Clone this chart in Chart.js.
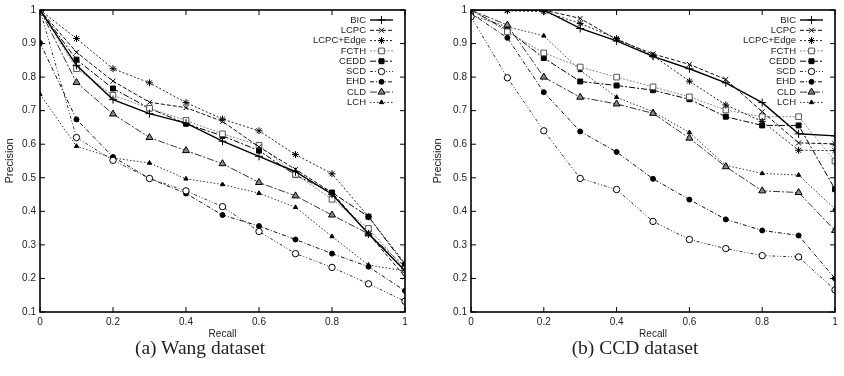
<!DOCTYPE html>
<html lang="en">
<head>
    <meta charset="UTF-8">
    <title>Precision-Recall: Wang and CCD datasets</title>
    <script src="https://cdn.jsdelivr.net/npm/chart.js"></script>
    <style>
        body {
            margin: 0;
            background: #fff;
            width: 844px;
            height: 376px;
            position: relative;
            overflow: hidden;
        }
        canvas {
            position: absolute;
            top: 0;
        }
        #wangChart { left: 0; }
        #ccdChart { left: 420px; }
        .caption {
            position: absolute;
            top: 337px;
            font-family: "Liberation Serif", "DejaVu Serif", serif;
            font-size: 19.5px;
            color: #222;
            text-align: center;
            width: 300px;
        }
    </style>
</head>
<body>
    <canvas id="wangChart" width="420" height="343"></canvas>
    <canvas id="ccdChart" width="424" height="343"></canvas>
    <div class="caption" style="left: 50px;">(a) Wang dataset</div>
    <div class="caption" style="left: 485px;">(b) CCD dataset</div>

    <script>
        const recall = [0, 0.1, 0.2, 0.3, 0.4, 0.5, 0.6, 0.7, 0.8, 0.9, 1];
        const seriesNames = ['BIC', 'LCPC', 'LCPC+Edge', 'FCTH', 'CEDD', 'SCD', 'EHD', 'CLD', 'LCH'];
        const precisionTicks = [0.1, 0.2, 0.3, 0.4, 0.5, 0.6, 0.7, 0.8, 0.9, 1];
        const recallTicks = [0, 0.2, 0.4, 0.6, 0.8, 1];

        // Wang dataset
        const wangBIC   = [1, 0.835, 0.733, 0.691, 0.663, 0.609, 0.564, 0.518, 0.451, 0.333, 0.223];
        const wangLCPC  = [1, 0.874, 0.788, 0.725, 0.709, 0.668, 0.592, 0.525, 0.456, 0.333, 0.205];
        const wangEdge  = [1, 0.915, 0.825, 0.783, 0.724, 0.675, 0.640, 0.569, 0.512, 0.384, 0.245];
        const wangFCTH  = [1, 0.825, 0.746, 0.707, 0.671, 0.631, 0.597, 0.510, 0.436, 0.349, 0.227];
        const wangCEDD  = [1, 0.852, 0.766, 0.707, 0.661, 0.625, 0.581, 0.508, 0.456, 0.384, 0.240];
        const wangSCD   = [1, 0.620, 0.552, 0.498, 0.461, 0.414, 0.340, 0.274, 0.233, 0.184, 0.132];
        const wangEHD   = [0.902, 0.674, 0.562, 0.498, 0.453, 0.389, 0.356, 0.316, 0.274, 0.235, 0.163];
        const wangCLD   = [1, 0.784, 0.690, 0.620, 0.581, 0.542, 0.486, 0.446, 0.389, 0.333, 0.235];
        const wangLCH   = [0.749, 0.594, 0.559, 0.544, 0.497, 0.480, 0.454, 0.412, 0.325, 0.240, 0.222];

        // CCD dataset
        const ccdBIC    = [1, 1, 1, 0.945, 0.908, 0.862, 0.825, 0.783, 0.724, 0.631, 0.625];
        const ccdLCPC   = [1, 1, 1, 0.975, 0.912, 0.869, 0.838, 0.793, 0.697, 0.604, 0.601];
        const ccdEdge   = [1, 0.998, 0.995, 0.960, 0.915, 0.864, 0.788, 0.717, 0.668, 0.582, 0.581];
        const ccdFCTH   = [1, 0.935, 0.872, 0.830, 0.800, 0.771, 0.741, 0.702, 0.682, 0.682, 0.550];
        const ccdCEDD   = [1, 0.940, 0.857, 0.787, 0.775, 0.761, 0.734, 0.682, 0.656, 0.656, 0.466];
        const ccdSCD    = [0.980, 0.798, 0.640, 0.498, 0.465, 0.370, 0.316, 0.289, 0.268, 0.264, 0.166];
        const ccdEHD    = [0.990, 0.917, 0.755, 0.638, 0.577, 0.497, 0.435, 0.376, 0.343, 0.328, 0.200];
        const ccdCLD    = [1, 0.955, 0.800, 0.740, 0.720, 0.692, 0.618, 0.533, 0.461, 0.456, 0.343];
        const ccdLCH    = [0.985, 0.950, 0.923, 0.820, 0.740, 0.697, 0.635, 0.537, 0.513, 0.508, 0.407];

        // line / marker look for each method, gnuplot-like
        const styles = [
            { color: '#000', width: 1.4, dash: [], point: 'cross', radius: 4, fill: '#000' },
            { color: '#111', width: 1, dash: [4, 2], point: 'crossRot', radius: 3.5, fill: '#000' },
            { color: '#222', width: 1, dash: [2, 2], point: 'star', radius: 3.5, fill: '#000' },
            { color: '#888', width: 1, dash: [2, 1.5], point: 'rect', radius: 4, fill: '#fff' },
            { color: '#000', width: 1, dash: [6, 2, 2, 2], point: 'rect', radius: 3.5, fill: '#000' },
            { color: '#333', width: 1, dash: [3, 2, 1, 2, 1, 2], point: 'circle', radius: 3.2, fill: '#fff' },
            { color: '#111', width: 1, dash: [4, 2, 1, 2], point: 'circle', radius: 2.5, fill: '#000' },
            { color: '#333', width: 1, dash: [7, 2, 2, 2], point: 'triangle', radius: 4, fill: '#888' },
            { color: '#333', width: 1, dash: [1.5, 2], point: 'triangle', radius: 2.5, fill: '#000' }
        ];

        const sansFont = '"Liberation Sans", Arial, sans-serif';

        function buildDatasets(seriesList) {
            return seriesList.map(function (vals, i) {
                const s = styles[i];
                return {
                    label: seriesNames[i],
                    data: recall.map(function (r, j) { return { x: r, y: vals[j] }; }),
                    borderColor: s.color,
                    borderWidth: s.width,
                    borderDash: s.dash,
                    pointStyle: s.point,
                    pointRadius: s.radius,
                    pointBorderColor: s.color === '#888' ? '#555' : '#000',
                    pointBackgroundColor: s.fill,
                    pointBorderWidth: 1,
                    tension: 0,
                    fill: false
                };
            });
        }

        // frame with inward ticks on all four sides
        const framePlugin = {
            id: 'frame',
            beforeDatasetsDraw(chart) {
                const ctx = chart.ctx;
                const a = chart.chartArea;
                const xs = chart.scales.x, ys = chart.scales.y;
                ctx.save();
                ctx.strokeStyle = '#000';
                ctx.lineWidth = 1;
                ctx.beginPath();
                precisionTicks.forEach(function (v) {
                    const py = ys.getPixelForValue(v);
                    ctx.moveTo(a.left, py); ctx.lineTo(a.left + 5, py);
                    ctx.moveTo(a.right, py); ctx.lineTo(a.right - 5, py);
                });
                recallTicks.forEach(function (v) {
                    const px = xs.getPixelForValue(v);
                    ctx.moveTo(px, a.bottom); ctx.lineTo(px, a.bottom - 5);
                    ctx.moveTo(px, a.top); ctx.lineTo(px, a.top + 5);
                });
                ctx.stroke();
                ctx.restore();
            },
            afterDatasetsDraw(chart) {
                const ctx = chart.ctx;
                const a = chart.chartArea;
                ctx.save();
                ctx.strokeStyle = '#000';
                ctx.lineWidth = 1.6;
                ctx.strokeRect(a.left, a.top, a.right - a.left, a.bottom - a.top);
                ctx.restore();
            }
        };

        // gnuplot style key: label right-aligned, then sample line with marker
        const keyPlugin = {
            id: 'gnuKey',
            afterDraw(chart) {
                const ctx = chart.ctx;
                const a = chart.chartArea;
                const lineEnd = a.right - 12;
                const lineStart = lineEnd - 23;
                const textEnd = lineStart - 4;
                ctx.save();
                ctx.font = '9.5px ' + sansFont;
                ctx.textAlign = 'right';
                ctx.textBaseline = 'middle';
                chart.data.datasets.forEach(function (ds, i) {
                    const y = a.top + 10 + i * 10.3;
                    ctx.fillStyle = '#222';
                    ctx.fillText(ds.label, textEnd, y);
                    ctx.strokeStyle = ds.borderColor;
                    ctx.lineWidth = ds.borderWidth;
                    ctx.setLineDash(ds.borderDash);
                    ctx.beginPath();
                    ctx.moveTo(lineStart, y);
                    ctx.lineTo(lineEnd, y);
                    ctx.stroke();
                    ctx.setLineDash([]);
                    ctx.fillStyle = ds.pointBackgroundColor;
                    ctx.strokeStyle = ds.pointBorderColor;
                    ctx.lineWidth = 1;
                    Chart.helpers.drawPoint(ctx, {
                        pointStyle: ds.pointStyle,
                        radius: ds.pointRadius,
                        rotation: 0,
                        borderWidth: 1
                    }, (lineStart + lineEnd) / 2, y);
                });
                ctx.restore();
            }
        };

        function makeChart(canvasId, seriesList, yAxisWidth, leftPad, rightPad) {
            const tickFont = { family: sansFont, size: 10 };
            return new Chart(document.getElementById(canvasId), {
                type: 'line',
                data: { datasets: buildDatasets(seriesList) },
                options: {
                    responsive: false,
                    animation: false,
                    layout: { padding: { top: 7, left: leftPad, right: rightPad, bottom: 0 } },
                    plugins: {
                        legend: { display: false },
                        tooltip: { enabled: false }
                    },
                    scales: {
                        x: {
                            type: 'linear',
                            min: 0,
                            max: 1,
                            grid: { display: false, drawTicks: false },
                            border: { display: false },
                            afterBuildTicks: function (scale) {
                                scale.ticks = recallTicks.map(function (v) { return { value: v }; });
                            },
                            afterFit: function (scale) { scale.height = 31; },
                            ticks: {
                                padding: 4,
                                color: '#222',
                                font: tickFont,
                                maxRotation: 0,
                                callback: function (v) { return String(+v.toFixed(1)); }
                            },
                            title: {
                                display: true,
                                text: 'Recall',
                                color: '#222',
                                font: { family: sansFont, size: 10 },
                                padding: { top: 0, bottom: 3 }
                            }
                        },
                        y: {
                            type: 'linear',
                            min: 0.1,
                            max: 1,
                            grid: { display: false, drawTicks: false },
                            border: { display: false },
                            afterBuildTicks: function (scale) {
                                scale.ticks = precisionTicks.map(function (v) { return { value: v }; });
                            },
                            afterFit: function (scale) { scale.width = yAxisWidth; },
                            ticks: {
                                padding: 4,
                                color: '#222',
                                font: tickFont,
                                callback: function (v) { return String(+v.toFixed(1)); }
                            },
                            title: {
                                display: true,
                                text: 'Precision',
                                color: '#222',
                                font: { family: sansFont, size: 11 },
                                padding: { top: 3, bottom: 0 }
                            }
                        }
                    }
                },
                plugins: [framePlugin, keyPlugin]
            });
        }

        makeChart('wangChart',
            [wangBIC, wangLCPC, wangEdge, wangFCTH, wangCEDD, wangSCD, wangEHD, wangCLD, wangLCH],
            40, 0, 15);
        makeChart('ccdChart',
            [ccdBIC, ccdLCPC, ccdEdge, ccdFCTH, ccdCEDD, ccdSCD, ccdEHD, ccdCLD, ccdLCH],
            43, 8, 9);
    </script>
</body>
</html>
